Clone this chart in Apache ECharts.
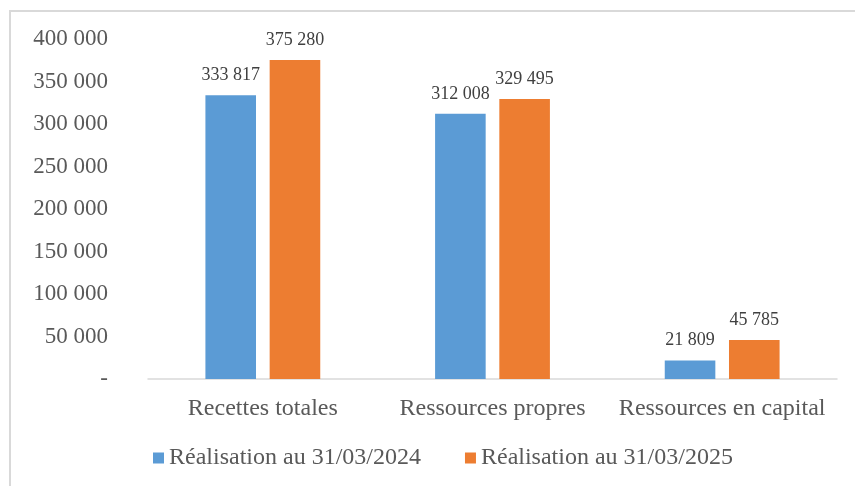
<!DOCTYPE html>
<html>
<head>
<meta charset="utf-8">
<script src="https://cdn.jsdelivr.net/npm/echarts@6/dist/echarts.min.js"></script>
<style>
  html, body { margin: 0; padding: 0; background: #fff; }
  #frame { position: absolute; left: 9px; top: 10px; width: 900px; height: 500px;
           border-left: 2px solid #d9d9d9; border-top: 2px solid #d9d9d9; }
  #chart { position: absolute; left: 0; top: 0; width: 855px; height: 486px; }
</style>
</head>
<body>
<div id="frame"></div>
<div id="chart"></div>
<script>
const categories = ['Recettes totales', 'Ressources propres', 'Ressources en capital']
const serie2024 = [333817, 312008, 21809]
const serie2025 = [375280, 329495, 45785]
const seriesNames = ['Réalisation au 31/03/2024', 'Réalisation au 31/03/2025']

const fmt = (v) => {
  if (v === 0) return '-'
  return String(v).replace(/\B(?=(\d{3})+(?!\d))/g, ' ')
}

const chart = echarts.init(document.getElementById('chart'))
const font = '"Liberation Serif", "Times New Roman", serif'

const labelStyle = {
  show: true,
  position: 'top',
  distance: 11,
  fontFamily: font,
  fontSize: 18,
  color: '#404040',
  formatter: (p) => fmt(p.value)
}

chart.setOption({
  animation: false,
  textStyle: { fontFamily: font },
  grid: { left: 148, right: 18, top: 39, bottom: 107 },
  legend: {
    data: seriesNames,
    bottom: 11,
    left: 148,
    itemWidth: 11,
    itemHeight: 11,
    itemGap: 44,
    icon: 'rect',
    textStyle: { fontFamily: font, fontSize: 24, color: '#595959', padding: [0, 0, 0, 0] }
  },
  xAxis: {
    type: 'category',
    data: categories,
    axisLine: { lineStyle: { color: '#d9d9d9', width: 1.5 } },
    axisTick: { show: false },
    axisLabel: { interval: 0, hideOverlap: false, margin: 18, fontFamily: font, fontSize: 24, color: '#595959' }
  },
  yAxis: {
    type: 'value',
    min: 0,
    max: 400000,
    interval: 50000,
    splitLine: { show: false },
    axisLine: { show: false },
    axisTick: { show: false },
    axisLabel: { margin: 40, fontFamily: font, fontSize: 23, color: '#595959', formatter: fmt }
  },
  series: [
    {
      name: seriesNames[0],
      type: 'bar',
      data: serie2024,
      barCategoryGap: '50%',
      barGap: '27%',
      itemStyle: { color: '#5B9BD5' },
      label: labelStyle
    },
    {
      name: seriesNames[1],
      type: 'bar',
      data: serie2025,
      barCategoryGap: '50%',
      barGap: '27%',
      itemStyle: { color: '#ED7D31' },
      label: labelStyle
    }
  ]
})
</script>
</body>
</html>
